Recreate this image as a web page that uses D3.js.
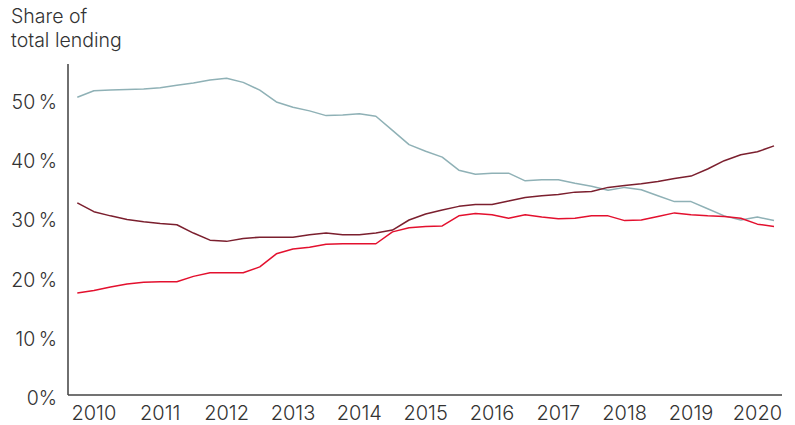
<!DOCTYPE html>
<html>
<head>
<meta charset="utf-8">
<script src="https://cdn.jsdelivr.net/npm/d3@7"></script>
<style>
  body { margin: 0; background: #fff; }
  text { font-family: Inter, Lato, "Open Sans", sans-serif; font-weight: 300; fill: #333; }
</style>
</head>
<body>
<div id="chart"></div>
<script>
// quarterly observations, Q4 2009 .. Q2 2020 (share of total lending, %)
var quarters = d3.range(43);

var years = ["2010", "2011", "2012", "2013", "2014", "2015",
             "2016", "2017", "2018", "2019", "2020"];

var yTicks = [0, 10, 20, 30, 40, 50];

var seriesBlue = [50.2, 51.3, 51.4, 51.5, 51.6, 51.8, 52.2, 52.6, 53.1, 53.4,
                  52.7, 51.4, 49.4, 48.5, 47.9, 47.1, 47.2, 47.4, 47.0, 44.6,
                  42.2, 41.1, 40.1, 37.9, 37.2, 37.4, 37.4, 36.1, 36.3, 36.3,
                  35.7, 35.2, 34.5, 35.0, 34.6, 33.6, 32.6, 32.6, 31.4, 30.2,
                  29.5, 30.0, 29.4];

var seriesDarkRed = [32.4, 30.9, 30.2, 29.6, 29.2, 28.9, 28.7, 27.3, 26.1, 25.9,
                     26.4, 26.6, 26.6, 26.6, 27.0, 27.3, 27.0, 27.0, 27.3, 27.8,
                     29.5, 30.5, 31.2, 31.8, 32.1, 32.1, 32.7, 33.3, 33.6, 33.8,
                     34.2, 34.3, 35.0, 35.3, 35.6, 36.0, 36.5, 36.9, 38.1, 39.5,
                     40.5, 41.0, 42.0];

var seriesRed = [17.2, 17.6, 18.2, 18.7, 19.0, 19.1, 19.1, 20.0, 20.6, 20.6,
                 20.6, 21.6, 23.8, 24.6, 24.9, 25.4, 25.5, 25.5, 25.5, 27.5,
                 28.2, 28.4, 28.5, 30.2, 30.6, 30.4, 29.8, 30.4, 30.0, 29.7,
                 29.8, 30.2, 30.2, 29.4, 29.5, 30.1, 30.7, 30.4, 30.2, 30.1,
                 29.8, 28.8, 28.4];

var series = [
  {name: "blue", values: seriesBlue, color: "#8fb1b6"},
  {name: "darkred", values: seriesDarkRed, color: "#7b1f2e"},
  {name: "red", values: seriesRed, color: "#e3102e"}
];

var width = 795, height = 425;
var margin = {top: 64, right: 13, bottom: 30, left: 68};

var svg = d3.select("#chart").append("svg")
    .attr("width", width)
    .attr("height", height);

var x = d3.scaleLinear()
    .domain([0, 42])
    .range([77.3, 774]);

var y = d3.scaleLinear()
    .domain([0, 55.8])
    .range([395, 64]);

// title
var title = svg.append("text")
    .style("font-size", "19.5px");
title.append("tspan").attr("x", 11).attr("y", 23).text("Share of");
title.append("tspan").attr("x", 11).attr("y", 47).text("total lending");

// axes lines
svg.append("line")
    .attr("x1", margin.left).attr("x2", margin.left)
    .attr("y1", y(55.8)).attr("y2", y(0))
    .attr("stroke", "#222").attr("stroke-width", 1.3);

svg.append("line")
    .attr("x1", margin.left).attr("x2", 782)
    .attr("y1", y(0)).attr("y2", y(0))
    .attr("stroke", "#444").attr("stroke-width", 1.3);

// y labels
svg.selectAll(".ylab")
    .data(yTicks)
  .enter().append("text")
    .attr("class", "ylab")
    .attr("x", 57)
    .attr("y", function(d) { return y(d) + 3.5; })
    .attr("dy", "0.35em")
    .attr("text-anchor", "end")
    .style("font-size", "19.5px")
    .text(function(d) { return d === 0 ? "0%" : d + "\u2009%"; });

// x labels, placed on the Q1 observation of each year
svg.selectAll(".xlab")
    .data(years)
  .enter().append("text")
    .attr("class", "xlab")
    .attr("x", function(d, i) { return x(1 + 4 * i); })
    .attr("y", 413)
    .attr("dy", "0.35em")
    .attr("text-anchor", "middle")
    .style("font-size", "20px")
    .text(function(d) { return d; });

var line = d3.line()
    .x(function(d, i) { return x(quarters[i]); })
    .y(function(d) { return y(d); });

svg.selectAll(".series")
    .data(series)
  .enter().append("path")
    .attr("class", "series")
    .attr("fill", "none")
    .attr("stroke", function(d) { return d.color; })
    .attr("stroke-width", 1.5)
    .attr("stroke-linejoin", "round")
    .attr("d", function(d) { return line(d.values); });
</script>
</body>
</html>
